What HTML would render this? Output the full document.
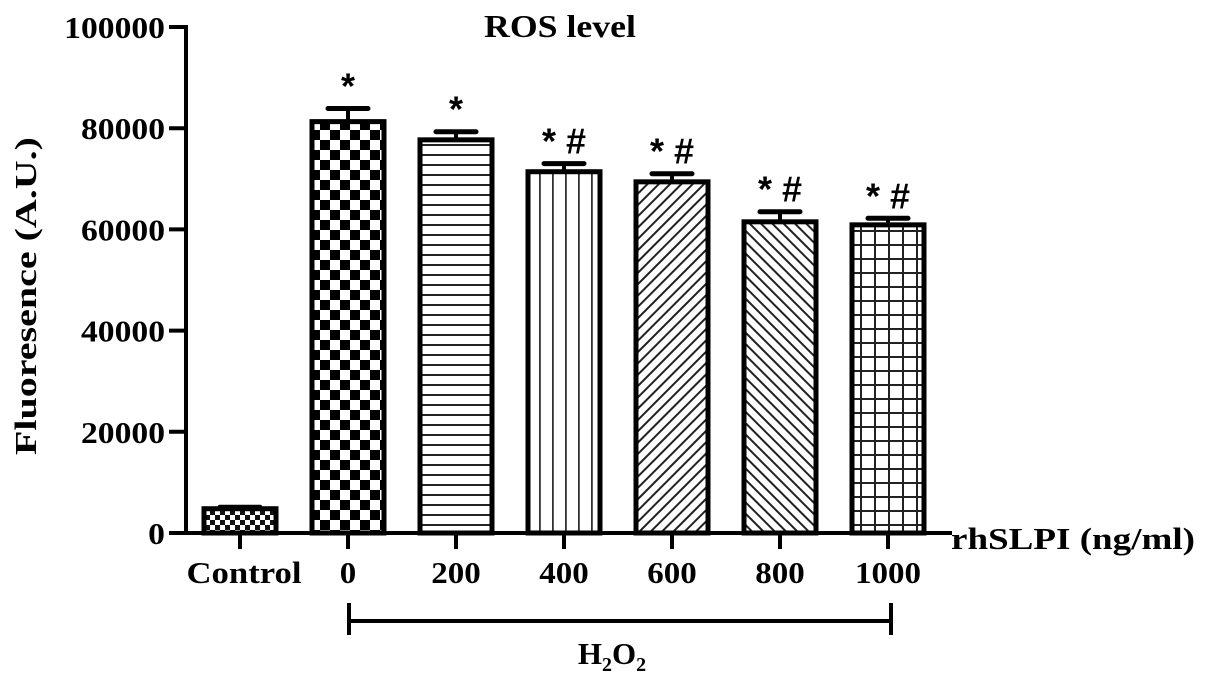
<!DOCTYPE html>
<html><head><meta charset="utf-8"><style>
html,body{margin:0;padding:0;background:#fff;}
svg{display:block;font-family:"Liberation Serif",serif;font-weight:bold;}
</style></head><body>
<svg id="chart" width="1205" height="678" viewBox="0 0 1205 678">
<defs>
<pattern id="p-smallcheck" width="10" height="10" patternUnits="userSpaceOnUse"><rect width="10" height="10" fill="#fff"/><rect width="5" height="5" fill="#111"/><rect x="5" y="5" width="5" height="5" fill="#111"/></pattern>
<pattern id="p-check" width="20" height="20" patternUnits="userSpaceOnUse"><rect width="20" height="20" fill="#fff"/><rect width="10" height="10" fill="#000"/><rect x="10" y="10" width="10" height="10" fill="#000"/></pattern>
<pattern id="p-horiz" width="10" height="10" patternUnits="userSpaceOnUse"><rect width="10" height="10" fill="#fff"/><rect y="4" width="10" height="2" fill="#222"/></pattern>
<pattern id="p-vert" width="13" height="13" patternUnits="userSpaceOnUse"><rect width="13" height="13" fill="#fff"/><rect x="6" width="1.8" height="13" fill="#333"/></pattern>
<pattern id="p-diag1" width="8" height="8" patternUnits="userSpaceOnUse" patternTransform="rotate(45)"><rect width="8" height="8" fill="#fff"/><rect x="3" width="2" height="8" fill="#222"/></pattern>
<pattern id="p-diag2" width="8" height="8" patternUnits="userSpaceOnUse" patternTransform="rotate(-45)"><rect width="8" height="8" fill="#fff"/><rect x="3" width="2" height="8" fill="#222"/></pattern>
<pattern id="p-grid" width="14" height="14" patternUnits="userSpaceOnUse"><rect width="14" height="14" fill="#fff"/><rect x="6" width="2" height="14" fill="#222"/><rect y="6" width="14" height="2" fill="#222"/></pattern>
</defs>
<g id="plot"></g>
</svg>
<script>
const categories = ["Control","0","200","400","600","800","1000"];
const values = [4800, 81300, 77700, 71400, 69400, 61500, 60900];
const errors = [300, 2600, 1600, 1600, 1600, 2000, 1300];
const marks = ["", "*", "*", "*#", "*#", "*#", "*#"];
const yTicks = [0, 20000, 40000, 60000, 80000, 100000];
const fills = ["p-smallcheck","p-check","p-horiz","p-vert","p-diag1","p-diag2","p-grid"];

const NS = "http://www.w3.org/2000/svg";
const g = document.getElementById("plot");
const y0 = 533, yTop = 27, yMax = 100000;
const yScale = v => y0 - v / yMax * (y0 - yTop);
const xScale = i => 240 + i * 108;
const barW = 72;
function el(tag, attrs, parent){ const e=document.createElementNS(NS,tag); for(const k in attrs) e.setAttribute(k,attrs[k]); (parent||g).appendChild(e); return e; }

let ax = el("line",{x1:186,y1:yTop-2,x2:186,y2:y0+2,stroke:"#000","stroke-width":4});


yTicks.forEach(t=>{
  const y=yScale(t);
  const tk=el("line",{x1:169,y1:y,x2:186,y2:y,stroke:"#000","stroke-width":4});
  
  
  const s=String(t);
  const tx=el("text",{x:165,y:y+11,"text-anchor":"end","font-size":31,textLength:s.length*16.8,lengthAdjust:"spacingAndGlyphs"});
  tx.textContent=s;
  
  
});
categories.forEach((c,i)=>{
  const cx=xScale(i), v=values[i], y=yScale(v);
  const ey=yScale(v+errors[i]);
  const eb=el("line",{x1:cx,y1:ey,x2:cx,y2:y,stroke:"#000","stroke-width":4});
  
  
  const cap=el("line",{x1:cx-20,y1:ey,x2:cx+20,y2:ey,stroke:"#000","stroke-width":5,"stroke-linecap":"round"});
  
  
  const r=el("rect",{x:cx-barW/2,y:y,width:barW,height:y0-y,fill:"url(#"+fills[i]+")",stroke:"#000","stroke-width":5});
  
  
  if(marks[i]){
    const m=el("text",{x:cx,y:ey-10,"text-anchor":"middle","font-size":36,"font-family":"Liberation Sans, sans-serif","font-weight":"bold"});
    m.textContent=marks[i].split("").join(" ");
    
    
  }
  const tk=el("line",{x1:cx,y1:y0,x2:cx,y2:y0+16,stroke:"#000","stroke-width":4});
  
  
  const lb=el("text",{x:cx+(i==0?4:0),y:583,"text-anchor":"middle","font-size":31,textLength:(c=="Control"?115:c.length*16.5),lengthAdjust:"spacingAndGlyphs"});
  lb.textContent=c;
  
  
});
let xa=el("line",{x1:184,y1:y0,x2:952,y2:y0,stroke:"#000","stroke-width":4});


</script>
<svg width="1205" height="678" style="position:absolute;left:0;top:0;font-family:'Liberation Serif',serif;font-weight:bold">
<text x="560" y="37" text-anchor="middle" font-size="32" textLength="152" lengthAdjust="spacingAndGlyphs">ROS level</text>
<text transform="translate(36,296) rotate(-90)" text-anchor="middle" font-size="31" textLength="318" lengthAdjust="spacingAndGlyphs">Fluoresence (A.U.)</text>
<text x="951" y="549" font-size="31" textLength="244" lengthAdjust="spacingAndGlyphs">rhSLPI (ng/ml)</text>
<g>
<line x1="349" y1="621" x2="891" y2="621" stroke="#000" stroke-width="4"/>
<line x1="349" y1="603" x2="349" y2="635" stroke="#000" stroke-width="4"/>
<line x1="891" y1="603" x2="891" y2="635" stroke="#000" stroke-width="4"/>
</g>
<text x="612" y="664" text-anchor="middle" font-size="31">H<tspan font-size="20" dy="7">2</tspan><tspan dy="-7">O</tspan><tspan font-size="20" dy="7">2</tspan></text>
</svg>
</body></html>
